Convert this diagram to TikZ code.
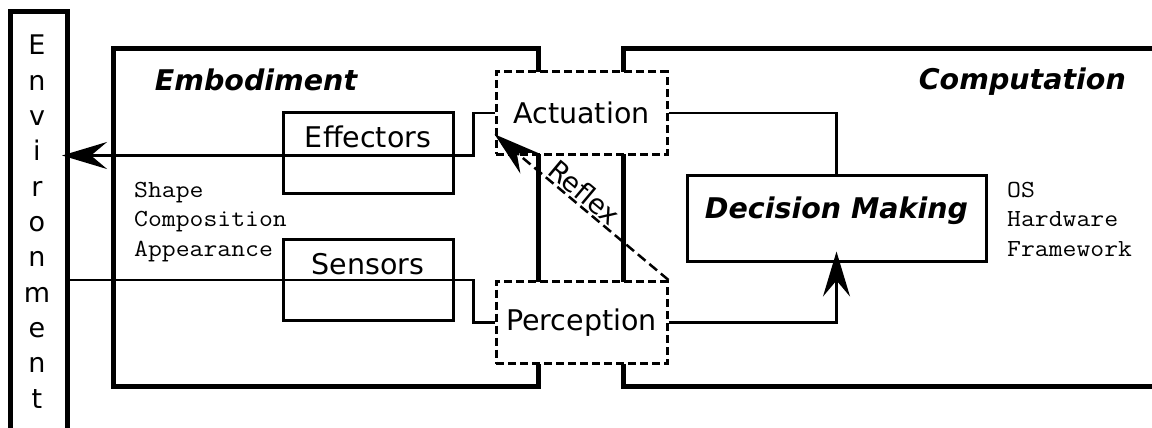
\documentclass[tikz,border=0pt]{standalone}
\usepackage{fontspec}
\setmainfont{DejaVu Sans}
\setmonofont[FakeStretch=1.1]{Latin Modern Mono}
\usetikzlibrary{arrows.meta,calc}

\tikzset{
	wall/.style={line width=5pt},
	link/.style={line width=2.5pt},
	tip/.style={-{Stealth[length=45pt,width=27pt,inset=16pt]}},
	big/.style={font=\fontsize{28.5}{34}\selectfont},
	title/.style={font=\fontsize{28.5}{34}\selectfont\bfseries\itshape, inner sep=0pt},
	notes/.style={font=\fontsize{24.5}{29.5}\selectfont\ttfamily, align=left, inner sep=0pt},
	part/.style={draw, line width=3pt, big, minimum width=170pt, minimum height=81pt, inner sep=5pt, text height=30pt, text depth=41pt},
	stage/.style={draw, line width=3pt, dash pattern=on 8pt off 4pt, fill=white, big, minimum width=171pt, minimum height=82pt},
	decide/.style={draw, line width=3pt, title, minimum width=299pt, minimum height=86pt, text height=20pt, text depth=20pt},
}

\begin{document}
\begin{tikzpicture}[x=1pt,y=-1pt]
				\useasboundingbox (0,0) rectangle (1152,428);
				% outer frames
				\node[draw, wall, minimum width=57pt, minimum height=440pt, anchor=north] (env) at (39,9.5) {};
				\foreach \c [count=\i from 0] in {E,n,v,i,r,o,n,m,e,n,t}
					\node[font=\fontsize{27}{32}\selectfont, anchor=base] (env\i) at (37,55+35.3*\i) {\c};
				\draw[wall] (113.5,49) rectangle (538,386.5);
				\draw[wall] (1160,49) -| (623.5,386.5) -- (1160,386.5);
				\node[title] (embt) at (256,80) {Embodiment};
				\node[title, anchor=base east] (compt) at (1126,90) {Computation};
				% inner blocks
				\node[part] (eff) at (368,152.5) {Effectors};
				\node[part] (sen) at (368,280) {Sensors};
				\node[stage] (act) at (581.5,113) {Actuation};
				\node[stage] (per) at (581.5,322.5) {Perception};
				\node[decide] (dm) at (836.5,218) {Decision Making};
				\node[notes, anchor=base west] (body) at (134,256) {Shape\\Composition\\Appearance};
				\node[notes, anchor=base west] (stack) at (1007,256) {OS\\Hardware\\Framework};
				% signal paths
				\draw[link, tip, shorten >=-8pt] (act.west) -- ++(-21,0) |- (env.east |- act.south);
				\draw[link] (env.east |- per.north) -| ([xshift=-21pt]per.west) -- (per.west);
				\draw[link] (act.east) -| (dm.north);
				\draw[link, tip, shorten >=-11pt] (per.east) -| (dm.south);
				\draw[link, tip, dash pattern=on 10pt off 5pt] (per.north east) -- node[font=\fontsize{27}{32}\selectfont, sloped, above, inner sep=1.5pt, pos=0.53] (rfx) {Reflex} ($(act.south west)!0.25!(act.north west)$);
			\end{tikzpicture}
\end{document}
